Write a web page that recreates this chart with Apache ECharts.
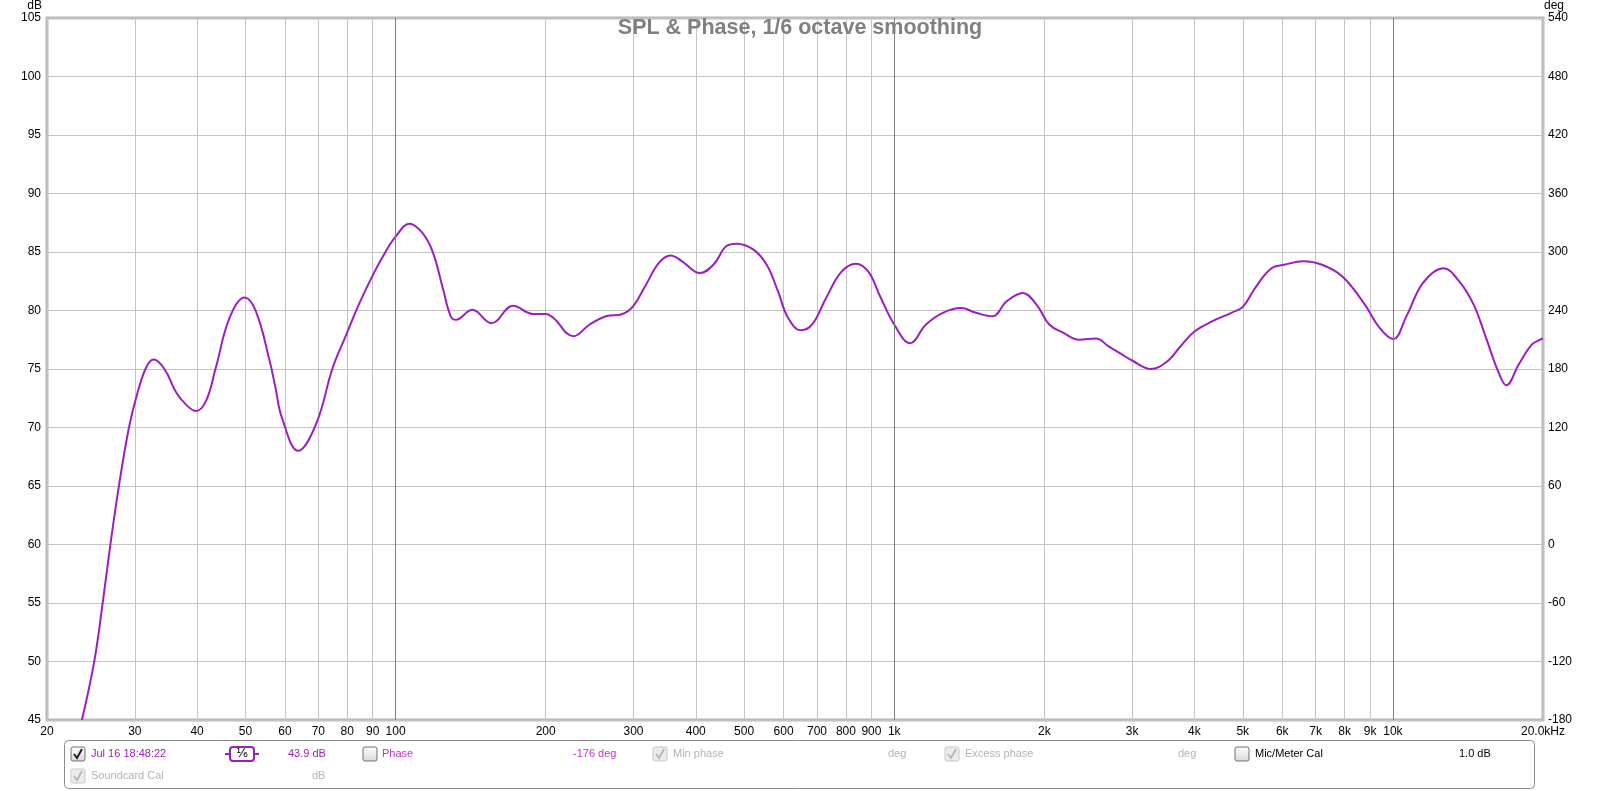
<!DOCTYPE html>
<html><head><meta charset="utf-8">
<script src="https://cdn.jsdelivr.net/npm/echarts@6.0.0/dist/echarts.min.js"></script>
<style>html,body{margin:0;padding:0;background:#fff;}#c{width:1600px;height:791px;}</style>
</head><body><div id="c"></div>
<script>
// ---- data ----
const freqHz = [23.5,24.9,25.9,26.8,27.9,29.2,30.3,31.6,32.7,34.4,36.3,38.0,39.8,41.7,43.6,46.5,49.8,52.5,55.9,57.5,59.1,63.8,69.3,74.8,79.6,84.6,90,94.3,100,106.6,113.3,118.7,124.4,129,132.2,142.5,155.7,172.1,188.4,200,206.9,227.4,245.1,264.2,285.2,300,317.8,338,356.1,375.4,407.6,434,460.8,483,522,555,585,612,650,684.6,729.6,783.4,838,888,934.7,1000,1076,1158,1252,1361,1459,1572,1683,1810,1929,2046,2180,2348,2540,2696,2871,3006,3268,3530,3745,4000,4357,4745,5000,5308,5708,6052,6600,7210,7920,8752,9406,10000,10672,11494,12632,13572,14520,15332,16290,16880,17890,19005,19750,20000];
const splDb = [45.0,50.1,55.2,60.0,65.1,70.0,72.8,75.1,75.8,75.0,73.0,71.95,71.4,72.3,75.1,79.4,81.1,79.9,75.7,73.3,70.9,68.0,70.3,75.1,77.9,80.6,83.0,84.6,86.3,87.4,86.6,85.0,81.9,79.5,79.2,80.05,78.9,80.4,79.7,79.7,79.4,77.8,78.8,79.5,79.7,80.4,82.2,84.1,84.7,84.2,83.2,83.9,85.5,85.7,85.2,83.9,81.6,79.4,78.3,78.8,81.05,83.3,84.0,83.3,81.3,78.8,77.2,78.8,79.8,80.2,79.8,79.5,80.8,81.5,80.5,78.8,78.1,77.5,77.6,76.9,76.2,75.7,75.0,75.65,76.9,78.2,79.1,79.8,80.3,82.0,83.6,83.9,84.2,83.9,82.9,80.6,78.5,77.55,79.6,82.35,83.6,82.5,80.5,77.8,74.7,73.6,75.4,77.1,77.5,77.6];
const xTickValues = [20,30,40,50,60,70,80,90,100,200,300,400,500,600,700,800,900,1000,2000,3000,4000,5000,6000,7000,8000,9000,10000,20000];
const xTickLabels = ['20','30','40','50','60','70','80','90','100','200','300','400','500','600','700','800','900','1k','2k','3k','4k','5k','6k','7k','8k','9k','10k','20.0kHz'];
const darkGridFreqs = [100, 1000, 10000];
const splRange = [45, 105, 5];
const phaseRange = [-180, 540, 60];
const chartTitle = 'SPL & Phase, 1/6 octave smoothing';

// ---- styles ----
const PURPLE = '#9b1fbe';
const MAGENTA = '#c535cf';
const GRAYTXT = '#b4b4b4';
const FONT = '"Liberation Sans", Arial, sans-serif';

function xLabel(v) {
  for (let i = 0; i < xTickValues.length; i++) {
    if (Math.abs(v - xTickValues[i]) / xTickValues[i] < 1e-6) return xTickLabels[i];
  }
  return '';
}

function checkbox(x, y, checked, disabled) {
  const els = [{
    type: 'rect', shape: {x: x, y: y, width: 14, height: 14, r: 2},
    style: {
      fill: disabled ? '#ececec' : new echarts.graphic.LinearGradient(0,0,0,1,[{offset:0,color:'#ffffff'},{offset:1,color:'#d8d8d8'}]),
      stroke: disabled ? '#c8c8c8' : '#707070', lineWidth: 1
    }
  }];
  if (checked) {
    els.push({type: 'polyline', shape: {points: [[x+3,y+7],[x+6,y+11],[x+11,y+2]]},
      style: {stroke: disabled ? '#b8b8b8' : '#202020', lineWidth: 2, fill: null}});
  }
  return els;
}
function txt(x, y, s, color) {
  return {type: 'text', x: x, y: y, style: {text: s, fill: color, font: '11px ' + FONT, verticalAlign: 'middle', align: 'left'}};
}

const r1 = 754, r2 = 776;
const graphics = [
  {type: 'rect', shape: {x: 64.5, y: 740.5, width: 1470, height: 48, r: 4}, style: {fill: 'none', stroke: '#8c8c8c', lineWidth: 1}},
  ...checkbox(71, 747, true, false),
  txt(91, r1, 'Jul 16 18:48:22', PURPLE),
  {type: 'line', shape: {x1: 225, y1: r1, x2: 259, y2: r1}, style: {stroke: PURPLE, lineWidth: 2}},
  {type: 'rect', shape: {x: 230, y: 747, width: 24, height: 14, r: 3}, style: {fill: '#fff', stroke: PURPLE, lineWidth: 2}},
  {type: 'text', x: 242, y: r1, style: {text: '\u00b9\u2044\u2086', fill: '#000', font: '12px "DejaVu Sans", sans-serif', align: 'center', verticalAlign: 'middle'}},
  txt(288, r1, '43.9 dB', PURPLE),
  ...checkbox(363, 747, false, false),
  txt(382, r1, 'Phase', MAGENTA),
  txt(573, r1, '-176 deg', MAGENTA),
  ...checkbox(653, 747, true, true),
  txt(673, r1, 'Min phase', GRAYTXT),
  txt(888, r1, 'deg', GRAYTXT),
  ...checkbox(945, 747, true, true),
  txt(965, r1, 'Excess phase', GRAYTXT),
  txt(1178, r1, 'deg', GRAYTXT),
  ...checkbox(1235, 747, false, false),
  txt(1255, r1, 'Mic/Meter Cal', '#000'),
  txt(1459, r1, '1.0 dB', '#000'),
  ...checkbox(71, 769, true, true),
  txt(91, r2, 'Soundcard Cal', GRAYTXT),
  txt(312, r2, 'dB', GRAYTXT)
];

const chart = echarts.init(document.getElementById('c'), null, {renderer: 'canvas'});
chart.setOption({
  animation: false,
  backgroundColor: '#fff',
  title: {text: chartTitle, left: 'center', top: 12,
    textStyle: {fontSize: 21.5, fontWeight: 'bold', color: '#808080', fontFamily: FONT}},
  grid: {left: 47, right: 57, top: 15, bottom: 71, show: true, borderColor: '#b8b8b8', borderWidth: 3, backgroundColor: '#fff'},
  xAxis: {
    type: 'log', logBase: 10, min: 20, max: 20000,
    axisLine: {show: false},
    axisTick: {show: false, customValues: xTickValues},
    axisLabel: {customValues: xTickValues, formatter: xLabel, color: '#000', fontSize: 12, fontFamily: FONT, margin: 6},
    splitLine: {show: true, lineStyle: {color: '#c4c4c4', width: 1}},
    minorSplitLine: {show: false}
  },
  yAxis: [{
    type: 'value', min: splRange[0], max: splRange[1], interval: splRange[2], position: 'left',
    name: 'dB', nameLocation: 'end', nameGap: 4,
    nameTextStyle: {color: '#000', fontSize: 12, fontFamily: FONT, align: 'right', verticalAlign: 'bottom', padding: [0, 5, 0, 0]},
    axisLine: {show: false}, axisTick: {show: false},
    axisLabel: {color: '#000', fontSize: 12, fontFamily: FONT, margin: 6},
    splitLine: {show: true, lineStyle: {color: '#c4c4c4', width: 1}}
  }, {
    type: 'value', min: phaseRange[0], max: phaseRange[1], interval: phaseRange[2], position: 'right',
    name: 'deg', nameLocation: 'end', nameGap: 4,
    nameTextStyle: {color: '#000', fontSize: 12, fontFamily: FONT, align: 'left', verticalAlign: 'bottom', padding: [0, 0, 0, 1]},
    axisLine: {show: false}, axisTick: {show: false},
    axisLabel: {color: '#000', fontSize: 12, fontFamily: FONT, margin: 5},
    splitLine: {show: false}
  }],
  series: [{
    type: 'line', name: 'SPL', yAxisIndex: 0,
    data: freqHz.map((f, i) => [f, splDb[i]]),
    showSymbol: false, smooth: 0.4, clip: true,
    lineStyle: {color: PURPLE, width: 2},
    markLine: {silent: true, symbol: ['none', 'none'], label: {show: false},
      lineStyle: {color: '#808080', width: 1, type: 'solid'},
      data: darkGridFreqs.map(f => ({xAxis: f}))}
  }],
  graphic: graphics
});
</script></body></html>
